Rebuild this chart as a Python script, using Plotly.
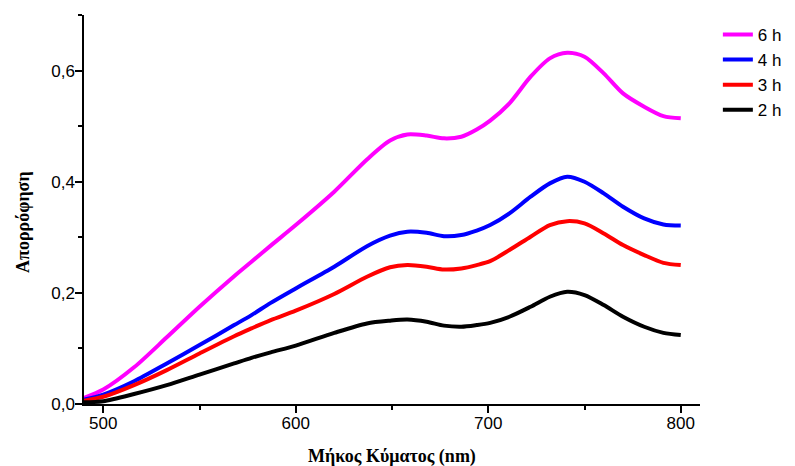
import plotly.graph_objects as go

wavelength = [490, 500, 516, 533, 550, 568, 577, 587, 600, 620, 637, 649, 658, 668,
              677, 686, 694, 701, 711, 722, 732, 741, 750, 760, 770, 781, 791, 800]

abs_6h = [0.011, 0.026, 0.066, 0.120, 0.175, 0.230, 0.256, 0.285, 0.322, 0.382, 0.440, 0.474,
          0.485, 0.483, 0.478, 0.481, 0.494, 0.510, 0.541, 0.589, 0.622, 0.632, 0.625, 0.595,
          0.559, 0.535, 0.518, 0.514]
abs_4h = [0.008, 0.017, 0.041, 0.073, 0.106, 0.142, 0.160, 0.182, 0.208, 0.247, 0.284, 0.303,
          0.310, 0.308, 0.302, 0.304, 0.312, 0.322, 0.343, 0.373, 0.397, 0.409, 0.400, 0.379,
          0.355, 0.334, 0.323, 0.321]
abs_3h = [0.006, 0.013, 0.034, 0.061, 0.091, 0.122, 0.136, 0.151, 0.168, 0.198, 0.229, 0.246,
          0.250, 0.247, 0.242, 0.244, 0.250, 0.257, 0.277, 0.301, 0.322, 0.329, 0.325, 0.307,
          0.286, 0.268, 0.254, 0.250]
abs_2h = [0.003, 0.005, 0.018, 0.034, 0.053, 0.073, 0.083, 0.093, 0.105, 0.128, 0.145, 0.150,
          0.152, 0.148, 0.141, 0.139, 0.142, 0.146, 0.157, 0.175, 0.193, 0.202, 0.196, 0.178,
          0.157, 0.139, 0.128, 0.124]

series_names = ["6 h", "4 h", "3 h", "2 h"]
series_values = [abs_6h, abs_4h, abs_3h, abs_2h]
series_colors = ["#ff00ff", "#0000ff", "#ff0000", "#000000"]

x_ticks = [500, 600, 700, 800]
y_ticks = [0.0, 0.2, 0.4, 0.6]

x_title = "<b>Μήκος Κύματος (nm)</b>"
y_title = "<b>Απορρόφηση</b>"

fig = go.Figure()
for name, vals, col in zip(series_names, series_values, series_colors):
    fig.add_trace(go.Scatter(x=wavelength, y=vals, mode="lines", name=name,
                             line=dict(color=col, width=4, shape="spline", smoothing=0.8)))

axis_font = dict(family="Liberation Sans, Arial, sans-serif", size=17, color="#000000")
title_font = dict(family="Liberation Serif, Times New Roman, serif", size=18, color="#000000")

fig.update_layout(
    width=795, height=466,
    margin=dict(l=76, r=103, t=7, b=70),
    paper_bgcolor="white", plot_bgcolor="white",
    separators=",.",
    showlegend=True,
    legend=dict(x=1.029, xanchor="left", y=0.995, yanchor="top",
                font=dict(family="Liberation Sans, Arial, sans-serif", size=17, color="#000000"),
                bgcolor="rgba(0,0,0,0)", tracegroupgap=0),
    xaxis=dict(range=[490, 810], tickvals=x_ticks, tickfont=axis_font, automargin=False,
               ticklabelstandoff=-4,
               showgrid=False, zeroline=False, showline=True, linecolor="#000000", linewidth=1.5,
               ticks="outside", ticklen=7, tickwidth=1.5, tickcolor="#000000",
               minor=dict(dtick=50, tick0=500, ticks="outside", ticklen=4, tickwidth=1.5, tickcolor="#000000", showgrid=False),
               title=dict(text=x_title, font=title_font, standoff=17)),
    yaxis=dict(range=[0, 0.7], tickvals=y_ticks, tickformat=".1f", tickfont=axis_font, automargin=False,
               ticklabelstandoff=-3,
               showgrid=False, zeroline=False, showline=True, linecolor="#000000", linewidth=1.5,
               ticks="outside", ticklen=7, tickwidth=1.5, tickcolor="#000000",
               minor=dict(dtick=0.1, tick0=0, ticks="outside", ticklen=4, tickwidth=1.5, tickcolor="#000000", showgrid=False)),
    annotations=[dict(text=y_title, xref="paper", yref="paper", x=-0.099, y=0.468,
                      xanchor="center", yanchor="middle", textangle=-90, showarrow=False,
                      font=title_font)],
)

fig.write_html("out.html")
